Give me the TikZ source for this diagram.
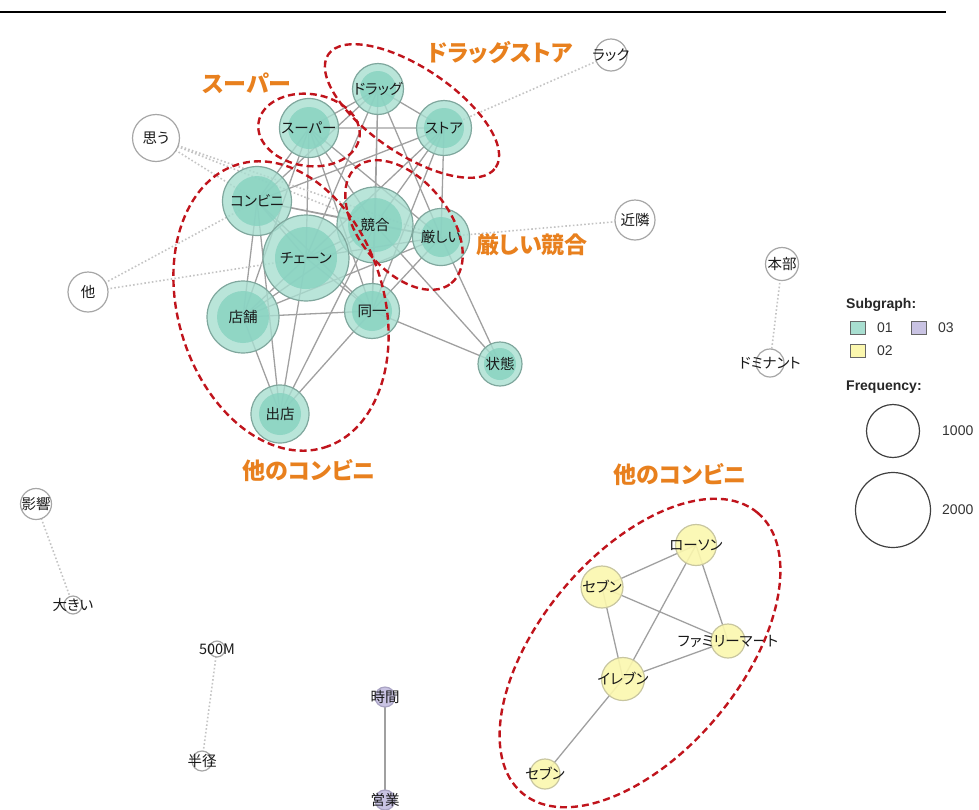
\documentclass[tikz,border=0pt]{standalone}
\usepackage{fontspec}
\setmainfont{Liberation Sans}
\newfontfamily\jp[RawFeature=+palt]{Noto Sans CJK JP}
\usetikzlibrary{backgrounds}

\definecolor{tealout}{HTML}{A8DED0}
\definecolor{tealin}{HTML}{86D2C0}
\definecolor{tealline}{HTML}{7FA79D}
\definecolor{yelfill}{HTML}{FBF7AE}
\definecolor{yelline}{HTML}{C8C6A0}
\definecolor{purfill}{HTML}{C9C3E3}
\definecolor{purline}{HTML}{A9A3C3}
\definecolor{ringgray}{HTML}{A6A6A6}
\definecolor{edgegray}{HTML}{A0A0A0}
\definecolor{dotgray}{HTML}{C4C4C4}
\definecolor{groupred}{HTML}{C0141C}
\definecolor{tagorange}{HTML}{E8801E}

\tikzset{
  word/.style={circle, inner sep=0pt, line width=1.2pt},
  txt/.style={font=\jp\fontsize{14.5}{16}\selectfont, text=black!90, inner sep=0pt},
  plain/.style={word, draw=ringgray, fill=white},
  sub1/.style={word, draw=tealline, fill=tealout, fill opacity=0.8, text opacity=1},
  sub2/.style={word, draw=yelline, fill=yelfill, fill opacity=0.9},
  sub3/.style={word, draw=purline, fill=purfill},
  core/.style={path picture={\fill[tealin] (path picture bounding box.center) circle (#1);}},
  edge/.style={draw=edgegray, line width=1.3pt},
  weak/.style={draw=dotgray, line width=1.6pt, dash pattern=on 1.6pt off 2.2pt},
  group/.style={draw=groupred, line width=2.4pt, dash pattern=on 7pt off 4pt},
  tag/.style={text=tagorange, font=\jp\bfseries\fontsize{23}{25}\selectfont},
  head/.style={font=\bfseries\fontsize{14}{16}\selectfont, anchor=west, inner sep=0pt, text=black!85},
  key/.style={font=\fontsize{14}{16}\selectfont, anchor=west, inner sep=0pt, text=black!80},
  box/.style={draw=black!60, line width=0.8pt, minimum width=15pt, minimum height=13pt, inner sep=0pt},
}

\begin{document}
\begin{tikzpicture}[x=1pt,y=1pt]

  \useasboundingbox (0,0) rectangle (979,-809);
  \draw[line width=2pt] (0,-12) -- (946,-12);

  % subgraph 01
  \node[sub1, minimum size=51pt, core=18pt, label={[txt]center:ドラッグ}] (drug) at (378,-89) {};
  \node[sub1, minimum size=59pt, core=21pt, label={[txt]center:スーパー}] (super) at (309,-128) {};
  \node[sub1, minimum size=55pt, core=20pt, label={[txt]center:ストア}] (store) at (444,-128) {};
  \node[sub1, minimum size=69pt, core=25pt, label={[txt]center:コンビニ}] (conv) at (257,-201) {};
  \node[sub1, minimum size=76pt, core=27pt, label={[txt]center:競合}] (comp) at (375,-225) {};
  \node[sub1, minimum size=57pt, core=20pt, label={[txt]center:厳しい}] (strict) at (441,-237) {};
  \node[sub1, minimum size=86pt, core=31pt, label={[txt]center:チェーン}] (chain) at (306,-258) {};
  \node[sub1, minimum size=72pt, core=26pt, label={[txt]center:店舗}] (shop) at (243,-317) {};
  \node[sub1, minimum size=55pt, core=20pt, label={[txt]center:同一}] (same) at (372,-311) {};
  \node[sub1, minimum size=44pt, core=16pt, label={[txt]center:状態}] (state) at (500,-364) {};
  \node[sub1, minimum size=58pt, core=21pt, label={[txt]center:出店}] (open) at (280,-414) {};

  % words outside the subgraphs
  \node[plain, minimum size=47pt, label={[txt]center:思う}] (think) at (156,-138) {};
  \node[plain, minimum size=40pt, label={[txt]center:他}] (other) at (88,-292) {};
  \node[plain, minimum size=32pt, label={[txt]center:ラック}] (rack) at (611,-55) {};
  \node[plain, minimum size=40pt, label={[txt]center:近隣}] (near) at (635,-220) {};
  \node[plain, minimum size=33pt, label={[txt]center:本部}] (hq) at (782,-264) {};
  \node[plain, minimum size=28pt, label={[txt]center:ドミナント}] (dominant) at (770,-363) {};
  \node[plain, minimum size=31pt, label={[txt]center:影響}] (effect) at (36,-504) {};
  \node[plain, minimum size=18pt, label={[txt]center:大きい}] (big) at (73,-605) {};
  \node[plain, minimum size=16pt, label={[txt]center:500M}] (fivehundred) at (217,-649) {};
  \node[plain, minimum size=20pt, label={[txt]center:半径}] (radius) at (202,-761) {};

  % subgraph 03
  \node[sub3, minimum size=20pt, label={[txt]center:時間}] (hours) at (385,-697) {};
  \node[sub3, minimum size=20pt, label={[txt]center:営業}] (business) at (385,-800) {};

  % subgraph 02
  \node[sub2, minimum size=41pt, label={[txt]center:ローソン}] (lawson) at (696,-545) {};
  \node[sub2, minimum size=42pt, label={[txt]center:セブン}] (seven) at (602,-587) {};
  \node[sub2, minimum size=34pt, label={[txt]center:ファミリーマート}] (family) at (728,-641) {};
  \node[sub2, minimum size=43pt, label={[txt]center:イレブン}] (eleven) at (623,-679) {};
  \node[sub2, minimum size=30pt, label={[txt]center:セブン}] (seventail) at (545,-774) {};

  \begin{pgfonlayer}{background}
    % co-occurrence within subgraph 01
    \draw[edge] (drug.center) -- (super.center) (drug.center) -- (store.center)
      (drug.center) -- (conv.center) (drug.center) -- (chain.center)
      (drug.center) -- (comp.center) (drug.center) -- (strict.center)
      (drug.center) -- (same.center);
    \draw[edge] (super.center) -- (store.center) (super.center) -- (conv.center)
      (super.center) -- (chain.center) (super.center) -- (comp.center)
      (super.center) -- (strict.center) (super.center) -- (same.center)
      (super.center) -- (shop.center);
    \draw[edge] (store.center) -- (conv.center) (store.center) -- (chain.center)
      (store.center) -- (comp.center) (store.center) -- (strict.center)
      (store.center) -- (same.center);
    \draw[edge] (conv.center) -- (chain.center) (conv.center) -- (comp.center)
      (conv.center) -- (strict.center) (conv.center) -- (shop.center)
      (conv.center) -- (same.center) (conv.center) -- (open.center);
    \draw[edge] (chain.center) -- (comp.center) (chain.center) -- (strict.center)
      (chain.center) -- (shop.center) (chain.center) -- (same.center)
      (chain.center) -- (open.center);
    \draw[edge] (comp.center) -- (strict.center) (comp.center) -- (shop.center)
      (comp.center) -- (same.center) (comp.center) -- (open.center)
      (comp.center) -- (state.center);
    \draw[edge] (strict.center) -- (same.center) (strict.center) -- (shop.center)
      (strict.center) -- (state.center);
    \draw[edge] (same.center) -- (shop.center) (same.center) -- (open.center)
      (same.center) -- (state.center);
    \draw[edge] (shop.center) -- (open.center);

    % weak links
    \draw[weak] (think.center) -- (conv.center) (think.center) -- (comp.center)
      (think.center) -- (strict.center);
    \draw[weak] (other.center) -- (conv.center) (other.center) -- (chain.center);
    \draw[weak] (rack.center) -- (store.center);
    \draw[weak] (near.center) -- (strict.center);
    \draw[weak] (hq.center) -- (dominant.center);
    \draw[weak] (effect.center) -- (big.center);
    \draw[weak] (fivehundred.center) -- (radius.center);

    \draw[edge] (hours.center) -- (business.center);

    \draw[edge] (lawson.center) -- (seven.center) (lawson.center) -- (eleven.center)
      (lawson.center) -- (family.center) (seven.center) -- (family.center)
      (seven.center) -- (eleven.center) (eleven.center) -- (family.center)
      (eleven.center) -- (seventail.center);
  \end{pgfonlayer}

  % hand-drawn groupings
  \draw[group] (412,-111) ellipse[x radius=101, y radius=43, rotate=-34];
  \draw[group] (309,-130) ellipse[x radius=51, y radius=36, rotate=-8];
  \draw[group] (404,-225) ellipse[x radius=75, y radius=45, rotate=-51];
  \draw[group] (281,-306) ellipse[x radius=148, y radius=103, rotate=-73];
  \draw[group] (640,-653) ellipse[x radius=183, y radius=100, rotate=50];

  \node[tag] (tagsuper) at (247,-83) {スーパー};
  \node[tag] (tagdrug) at (500,-53) {ドラッグストア};
  \node[tag] (tagstrict) at (532,-245) {厳しい競合};
  \node[tag] (tagconv) at (309,-471) {他のコンビニ};
  \node[tag] (tagconvb) at (680,-475) {他のコンビニ};

  % legend
  \node[head] (subhead) at (846,-305) {Subgraph:};
  \node[box, fill=tealout] (box1) at (858,-328) {};
  \node[key] (key1) at (877,-328) {01};
  \node[box, fill=purfill] (box3) at (919,-328) {};
  \node[key] (key3) at (938,-328) {03};
  \node[box, fill=yelfill] (box2) at (858,-351) {};
  \node[key] (key2) at (877,-351) {02};
  \node[head] (freqhead) at (846,-387) {Frequency:};
  \node[circle, draw=black!75, line width=1.2pt, minimum size=53pt] (f1000) at (893,-431) {};
  \node[key] (n1000) at (942,-431) {1000};
  \node[circle, draw=black!75, line width=1.2pt, minimum size=75pt] (f2000) at (893,-510) {};
  \node[key] (n2000) at (942,-510) {2000};

\end{tikzpicture}
\end{document}
